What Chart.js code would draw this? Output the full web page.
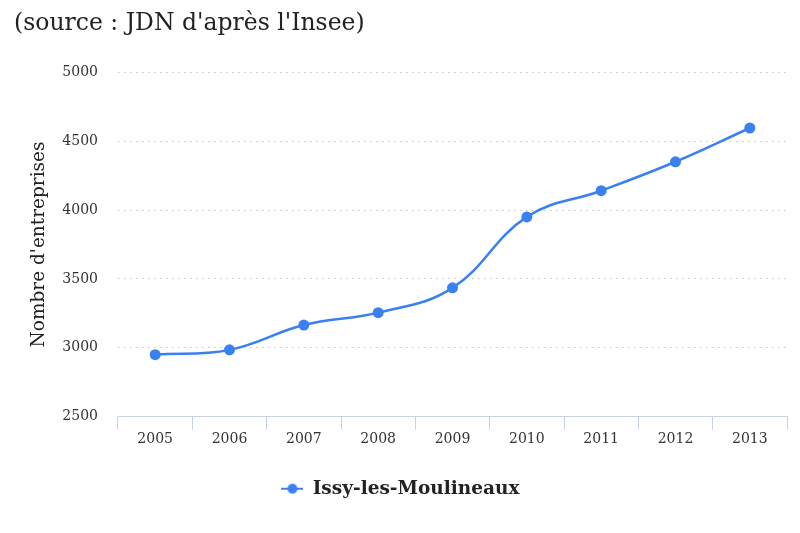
<!DOCTYPE html>
<html>
<head>
<meta charset="utf-8">
<script src="https://cdn.jsdelivr.net/npm/chart.js@4/dist/chart.umd.min.js"></script>
<style>
  html, body { margin:0; padding:0; background:#fff; }
  #wrap { width:800px; height:533px; }
</style>
</head>
<body>
<div id="wrap"><canvas id="c" width="800" height="533"></canvas></div>
<script>
const years = ['2005','2006','2007','2008','2009','2010','2011','2012','2013'];
const issyValues = [2950, 2985, 3165, 3255, 3435, 3950, 4140, 4350, 4595];
const seriesName = 'Issy-les-Moulineaux';
const chartTitle = "(source : JDN d'après l'Insee)";
const yTitle = "Nombre d'entreprises";

const blue = '#3a80f0';
const font = "'DejaVu Serif', serif";

// legend symbol: short line with a dot
const sym = document.createElement('canvas');
sym.width = 22; sym.height = 12;
(function(){
  const g = sym.getContext('2d');
  g.strokeStyle = blue; g.lineWidth = 2;
  g.beginPath(); g.moveTo(0,6); g.lineTo(22,6); g.stroke();
  g.fillStyle = blue; g.beginPath(); g.arc(11,6,5,0,Math.PI*2); g.fill();
})();

new Chart(document.getElementById('c'), {
  type: 'line',
  data: {
    labels: years,
    datasets: [{
      label: seriesName,
      data: issyValues,
      borderColor: blue,
      backgroundColor: blue,
      borderWidth: 2.5,
      pointRadius: 5.5,
      pointHoverRadius: 5.5,
      pointBorderWidth: 0,
      tension: 0.4,
      fill: false
    }]
  },
  options: {
    responsive: false,
    animation: false,
    layout: { padding: { left: 14, right: 13, top: 0, bottom: 25 } },
    plugins: {
      title: {
        display: true, text: chartTitle, align: 'start', color: '#222',
        font: { family: font, size: 23.5, weight: 'normal' },
        padding: { top: 10, bottom: 34 }
      },
      legend: {
        position: 'bottom',
        labels: {
          font: { family: font, size: 18.5, weight: 'bold' }, color: '#222',
          usePointStyle: true, pointStyleWidth: 22, padding: 22,
          generateLabels: (ch) => [{
            text: seriesName, pointStyle: sym, fillStyle: blue,
            strokeStyle: blue, lineWidth: 0, datasetIndex: 0, fontColor: '#222'
          }]
        }
      },
      tooltip: { enabled: false }
    },
    scales: {
      x: {
        offset: true,
        afterFit: (s) => { s.height += 9; },
        grid: { offset: true, drawOnChartArea: false, drawTicks: true, tickLength: 13, color: '#c6d3e6' },
        border: { display: true, color: '#c6d3e6', width: 1 },
        ticks: { font: { family: font, size: 14 }, color: '#333', padding: 1 }
      },
      y: {
        min: 2500, max: 5000,
        afterFit: (s) => { s.width = 104; },
        ticks: { stepSize: 500, font: { family: font, size: 14 }, color: '#333', padding: 20,
                 callback: (v) => String(v) },
        grid: { drawTicks: false, color: '#c4c4c4', lineWidth: 1 },
        border: { display: false, dash: [1.5, 4.5] },
        title: { display: true, text: yTitle, font: { family: font, size: 18.5 }, color: '#222', padding: { top: 14, bottom: 10 } }
      }
    }
  }
});
</script>
</body>
</html>
